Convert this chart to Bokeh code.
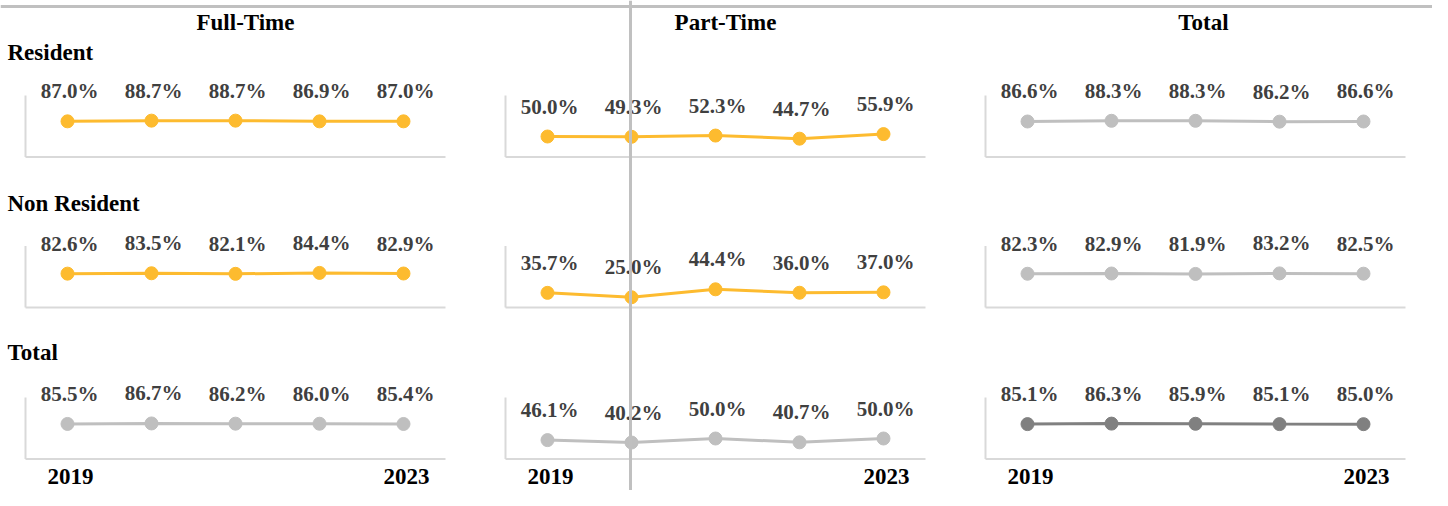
from bokeh.plotting import figure
from bokeh.models import Range1d, Span
from bokeh.core.properties import value
from bokeh.embed import file_html
from bokeh.resources import INLINE

# ---------------- data ----------------
years = [2019, 2020, 2021, 2022, 2023]
column_titles = ["Full-Time", "Part-Time", "Total"]
row_titles = ["Resident", "Non Resident", "Total"]
year_tick_labels = ["2019", "2023"]

ft_resident = [87.0, 88.7, 88.7, 86.9, 87.0]
ft_nonresident = [82.6, 83.5, 82.1, 84.4, 82.9]
ft_total = [85.5, 86.7, 86.2, 86.0, 85.4]

pt_resident = [50.0, 49.3, 52.3, 44.7, 55.9]
pt_nonresident = [35.7, 25.0, 44.4, 36.0, 37.0]
pt_total = [46.1, 40.2, 50.0, 40.7, 50.0]

tot_resident = [86.6, 88.3, 88.3, 86.2, 86.6]
tot_nonresident = [82.3, 82.9, 81.9, 83.2, 82.5]
tot_total = [85.1, 86.3, 85.9, 85.1, 85.0]

# rows x columns
grid = [
    [ft_resident, pt_resident, tot_resident],
    [ft_nonresident, pt_nonresident, tot_nonresident],
    [ft_total, pt_total, tot_total],
]

# ---------------- styles / layout ----------------
GOLD = "#FDBB2F"
LIGHT = "#BFBFBF"
DARK = "#808080"
colors = [
    [GOLD, GOLD, LIGHT],
    [GOLD, GOLD, LIGHT],
    [LIGHT, LIGHT, DARK],
]
AXIS_COLOR = "#D9D9D9"
LABEL_COLOR = "#404040"
SEP_COLOR = "#C0C0C0"
SERIF = value("Liberation Serif")

W, H = 1432, 490
PANEL_LEFT = [25, 505, 985]       # pixel x of each panel's left edge
PANEL_W = 420
ROW_BASE = [156.5, 307, 458.5]    # pixel y of value 0 in each row
PANEL_H = 61.5
Y_MAX = 150.0

x_lo = years[0] - 0.5
x_hi = years[-1] + 0.5
px_per_year = PANEL_W / (x_hi - x_lo)
px_per_val = PANEL_H / Y_MAX

p = figure(width=W, height=H,
           x_range=Range1d(0, W), y_range=Range1d(H, 0),
           x_axis_location=None, y_axis_location=None,
           output_backend="svg", toolbar_location=None,
           min_border=0, min_border_left=0, min_border_right=0,
           min_border_top=0, min_border_bottom=0)
p.grid.visible = False
p.outline_line_color = None
p.background_fill_color = "white"
p.border_fill_color = "white"

xr = {}
for c in range(3):
    left = PANEL_LEFT[c]
    xr[f"c{c}"] = Range1d(x_lo - left / px_per_year,
                          x_lo + (W - left) / px_per_year)
yr = {}
for r in range(3):
    base = ROW_BASE[r]
    yr[f"r{r}"] = Range1d(-(H - base) / px_per_val, base / px_per_val)
p.extra_x_ranges = xr
p.extra_y_ranges = yr

for r in range(3):
    for c in range(3):
        vals = grid[r][c]
        col = colors[r][c]
        kw = dict(x_range_name=f"c{c}", y_range_name=f"r{r}")
        # panel axis lines (L shape)
        p.segment(x0=[x_lo, x_lo], y0=[0, 0], x1=[x_hi, x_lo], y1=[0, Y_MAX],
                  line_color=AXIS_COLOR, line_width=2, **kw)
        p.line(x=years, y=vals, line_color=col, line_width=3, **kw)
        p.scatter(x=years, y=vals, size=13, fill_color=col, line_color=col, **kw)
        p.text(x=years, y=vals, text=[f"{v:.1f}%" for v in vals],
               text_font=SERIF, text_font_style="bold", text_font_size="21px",
               text_color=LABEL_COLOR, text_align="center", text_baseline="middle",
               x_offset=2, y_offset=-30, **kw)
        if r == 2:
            p.text(x=[years[0], years[-1]], y=[0, 0], text=year_tick_labels,
                   text_font=SERIF, text_font_style="bold", text_font_size="23px",
                   text_color="black", text_align="center", text_baseline="middle",
                   x_offset=3, y_offset=17, **kw)

# column titles
p.text(x=[245, 725, 1203], y=[22, 22, 22], text=column_titles,
       text_font=SERIF, text_font_style="bold", text_font_size="23px",
       text_color="black", text_align="center", text_baseline="middle")
# row titles
p.text(x=[7, 7, 7], y=[52, 203, 352], text=row_titles,
       text_font=SERIF, text_font_style="bold", text_font_size="23px",
       text_color="black", text_align="left", text_baseline="middle")

# frame separators
p.segment(x0=[0], y0=[6], x1=[1442], y1=[6], line_color=SEP_COLOR, line_width=3)
p.add_layout(Span(location=630, dimension="height", line_color=SEP_COLOR, line_width=3))

open("out.html", "w").write(file_html(p, INLINE))
